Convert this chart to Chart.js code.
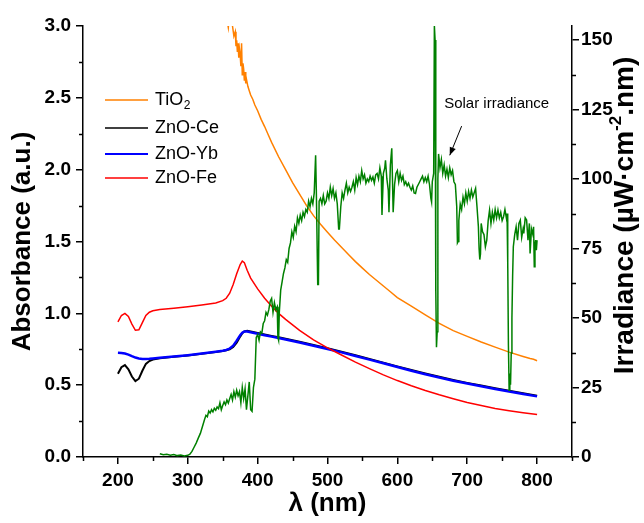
<!DOCTYPE html>
<html><head><meta charset="utf-8">
<script src="https://cdn.jsdelivr.net/npm/chart.js@4"></script>
<style>html,body{margin:0;padding:0;background:#fff}canvas{display:block}</style>
</head><body>
<canvas id="c" width="644" height="523"></canvas>
<script>
const FAMILY = '"Liberation Sans", Arial, Helvetica, sans-serif';

// ---- tick labels ----
const xTicks = [200, 300, 400, 500, 600, 700, 800];
const yLeftTicks = [0, 0.5, 1.0, 1.5, 2.0, 2.5, 3.0];
const yRightTicks = [0, 25, 50, 75, 100, 125, 150];

// ---- series names ----
const seriesNames = ['TiO2', 'ZnO-Ce', 'ZnO-Yb', 'ZnO-Fe'];
const irrName = 'Solar irradiance';

// ---- absorbance: ZnO series share a wavelength grid ----
const wlAbs = [200,205,210,215,220,225,230,235,240,245,250,260,280,300,320,340,350,355,360,365,370,375,378,381,385,390,400,410,420,430,440,460,480,500,520,540,560,580,600,620,640,660,680,700,720,740,760,780,800];
const absCe = [0.58,0.625,0.64,0.61,0.56,0.528,0.545,0.60,0.648,0.668,0.678,0.688,0.698,0.707,0.718,0.731,0.738,0.743,0.75,0.765,0.795,0.838,0.862,0.874,0.878,0.873,0.863,0.853,0.843,0.833,0.823,0.802,0.78,0.757,0.733,0.708,0.683,0.657,0.631,0.605,0.581,0.558,0.536,0.516,0.497,0.479,0.461,0.444,0.427];
const absYb = [0.725,0.724,0.72,0.713,0.702,0.692,0.686,0.683,0.683,0.684,0.686,0.69,0.70,0.709,0.72,0.733,0.74,0.745,0.755,0.775,0.81,0.848,0.865,0.874,0.874,0.868,0.858,0.848,0.838,0.828,0.818,0.797,0.775,0.752,0.728,0.703,0.678,0.652,0.626,0.60,0.576,0.553,0.531,0.511,0.492,0.474,0.456,0.439,0.422];
const absFe = [0.94,0.985,1.0,0.978,0.925,0.882,0.885,0.935,0.985,1.008,1.018,1.026,1.036,1.046,1.058,1.072,1.088,1.105,1.14,1.20,1.275,1.34,1.363,1.352,1.30,1.245,1.17,1.105,1.05,1.0,0.958,0.882,0.815,0.76,0.71,0.66,0.615,0.572,0.532,0.496,0.463,0.433,0.406,0.38,0.358,0.338,0.322,0.308,0.296];

// ---- absorbance: TiO2 ----
const wlTiO2 = [355,357,358,360,362,364,366,368,369,370,371,372,373,374,375,376,377,378,379,380,381,382,383,384,386,388,390,393,396,400,405,410,415,420,430,440,450,460,470,480,490,500,510,520,530,540,550,560,570,580,590,600,620,640,660,680,700,720,740,760,780,790,795,800];
const absTiO2 = [3.15,3.02,2.99,3.1,3.05,3.0,2.93,2.96,2.86,2.9,2.82,2.88,2.78,2.84,2.8,2.72,2.88,2.66,2.74,2.7,2.62,2.68,2.6,2.63,2.58,2.55,2.52,2.49,2.45,2.41,2.35,2.30,2.245,2.19,2.09,2.00,1.91,1.83,1.75,1.68,1.62,1.565,1.51,1.46,1.41,1.36,1.315,1.27,1.23,1.19,1.15,1.11,1.05,0.99,0.93,0.88,0.84,0.80,0.765,0.73,0.70,0.685,0.68,0.67];

// ---- solar irradiance (right axis) ----
const irrWl = [
260,265,270,275,280,285,290,295,300,303,
306,309,312,315,318,321,324,326,328,330,
332,334,336,338,340,342,344,346,348,350,
352,354,356,358,360,362,364,366,368,370,
372,374,376,378,380,382,384,386,388,390,
392,394,396,398,400,402,404,406,408,410,
412,414,416,418,420,422,424,426,428,429,
430,431,433,435,437,439,441,443,445,447,
449,451,453,455,457,459,461,463,465,467,
469,471,473,475,477,479,481,483,484,486,
487,488,490,492,494,496,498,500,502,504,
506,508,510,512,514,516,517,519,521,523,
525,527,529,531,533,535,537,539,541,543,
545,547,549,551,553,555,557,559,561,563,
565,567,569,571,573,575,577,578,580,582,
583,585,587,588,590,592,593,594,596,598,
600,602,604,606,608,610,612,614,616,618,
620,622,624,626,628,630,632,634,636,638,
640,642,644,646,648,649,650,652,653,654,
655,656,657,658,659,661,663,665,667,669,
671,673,675,677,679,681,683,685,686,687,
688,690,692,694,696,698,700,702,704,706,
708,710,712,714,716,717,718,719,720,722,
724,726,728,730,732,734,736,738,740,742,
744,746,748,750,752,754,756,757,758,759,
760,761,762,763,764,765,766,768,770,772,
774,776,778,780,781,783,785,787,789,790,
792,794,795,796,797,798,799,800];
const irrVal = [
1.2,0.8,1.0,0.6,0.9,0.5,0.7,0.4,0.6,1.0,
2.0,3.5,5.0,6.8,8.5,11,13.5,15,14.5,16.5,
15.8,17,16.2,17.5,16.8,18,17.4,19.5,17,18.5,
19.8,18.8,20.5,19.4,21,22.5,20.5,23.5,21.5,24,
22,23.5,19.5,25,21,24.5,17,22,27,17,
16.4,25,28,43,44,42,45,44.5,48,49,
52,51,53,56,57,52,55.5,53,54,43,
42,52,60,63,66,68,71,70,75,77,
81,79,83,81,86,84,87,85,88,86.5,
89,88,92,90,93,91,95,108.5,96,62,
62,92,93,91,94,91,92,95,93,97,
94,96.5,93,95,91,82,82,90,95,93,
96,98.5,95,97,95.5,97,99,96,100.5,98,
101,99,103,100,101.5,98.5,100,99,101,99.5,
100.7,98.5,101.5,102,100,104,101,87,102,104,
106.7,100,96,88,105,111,100,88,98,102,
103,99,102,99.5,101,98,99,97.5,98.5,97,
96,97.5,95,94.8,97,98,99,100,101,99,
100.5,99,101,98,93,91.7,99,102,155,150,
60,39.5,45,100,109,104,107,102,105,101,
103.5,100.5,104,101.5,103,99,98,90,77,77.5,
85,91,89,93.5,91,95,92,95.5,93,96,
93.5,95,96.6,90,82.8,75,71,73,84,81,
80,75.6,78,85,88.8,84,88,85.2,89,86,
88.8,86,88,85,86.4,89,86,87.6,70,40,
24,30,26,37.4,50,65,75.6,80,82.8,78,
84,85.2,79,82,80.4,86,85.2,78,84,73.2,
82,80,82.8,68.4,76,78,74.4,78];

// ---- annotation anchor (data coordinates) ----
const annotText = { wl: 667, irr: 127 };
const annotArrowFrom = { wl: 692, irr: 119 };
const annotArrowTo = { wl: 675, irr: 108.5 };

const colors = ['#FF8000', '#000000', '#0000FF', '#FF0000'];
const irrColor = '#008000';
const widths = [1.5, 2, 2.5, 1.5];

function pts(xs, ys) { return xs.map((x, i) => ({ x: x, y: ys[i] })); }

const deco = {
  id: 'deco',
  afterDraw(chart) {
    const ctx = chart.ctx, ca = chart.chartArea;
    const sx = chart.scales.x, yl = chart.scales.y, yr = chart.scales.y2;
    ctx.save();
    // minor ticks
    ctx.strokeStyle = '#000'; ctx.lineWidth = 1.5;
    ctx.beginPath();
    for (let v = 150; v <= 850; v += 100) { const p = Math.round(sx.getPixelForValue(v)) + 0.5; ctx.moveTo(p, ca.bottom); ctx.lineTo(p, ca.bottom + 4); }
    for (let v = 0.25; v < 3; v += 0.5) { const p = Math.round(yl.getPixelForValue(v)) + 0.5; ctx.moveTo(ca.left, p); ctx.lineTo(ca.left - 4, p); }
    for (let v = 12.5; v < 155; v += 25) { const p = Math.round(yr.getPixelForValue(v)) + 0.5; ctx.moveTo(ca.right, p); ctx.lineTo(ca.right + 4, p); }
    ctx.stroke();

    // legend
    const rows = [100, 128, 154, 178];
    ctx.textBaseline = 'middle'; ctx.textAlign = 'left';
    seriesNames.forEach((name, i) => {
      const y = rows[i];
      ctx.strokeStyle = colors[i]; ctx.lineWidth = widths[i] === 2.5 ? 2 : 1.5;
      ctx.beginPath(); ctx.moveTo(105, y); ctx.lineTo(148, y); ctx.stroke();
      ctx.fillStyle = '#000';
      const m = name.match(/^(.*?)(\d)$/);
      if (m) {
        ctx.font = '18px ' + FAMILY;
        ctx.fillText(m[1], 155, y);
        const w = ctx.measureText(m[1]).width;
        ctx.font = '12px ' + FAMILY;
        ctx.fillText(m[2], 155 + w + 0.5, y + 6);
      } else {
        ctx.font = '18px ' + FAMILY;
        ctx.fillText(name, 155, y);
      }
    });

    // annotation
    ctx.fillStyle = '#000';
    ctx.font = '15px ' + FAMILY;
    ctx.textBaseline = 'middle';
    ctx.fillText(irrName, sx.getPixelForValue(annotText.wl), yr.getPixelForValue(annotText.irr));
    const ax1 = sx.getPixelForValue(annotArrowFrom.wl), ay1 = yr.getPixelForValue(annotArrowFrom.irr);
    const ax2 = sx.getPixelForValue(annotArrowTo.wl), ay2 = yr.getPixelForValue(annotArrowTo.irr);
    ctx.strokeStyle = '#000'; ctx.lineWidth = 1;
    ctx.beginPath(); ctx.moveTo(ax1, ay1); ctx.lineTo(ax2, ay2); ctx.stroke();
    const ang = Math.atan2(ay2 - ay1, ax2 - ax1);
    const hl = 8, hw = 3.2;
    ctx.beginPath();
    ctx.moveTo(ax2, ay2);
    ctx.lineTo(ax2 - hl * Math.cos(ang) + hw * Math.sin(ang), ay2 - hl * Math.sin(ang) - hw * Math.cos(ang));
    ctx.lineTo(ax2 - hl * Math.cos(ang) - hw * Math.sin(ang), ay2 - hl * Math.sin(ang) + hw * Math.cos(ang));
    ctx.closePath(); ctx.fill();

    // right axis title with superscript
    ctx.save();
    ctx.translate(625, (ca.top + ca.bottom) / 2 - 26);
    ctx.rotate(-Math.PI / 2);
    const p1 = 'Irradiance (µW·cm', p2 = '-2', p3 = '.nm)';
    const big = 'bold 28px ' + FAMILY, small = 'bold 17px ' + FAMILY;
    ctx.font = big; const w1 = ctx.measureText(p1).width, w3 = ctx.measureText(p3).width;
    ctx.font = small; const w2 = ctx.measureText(p2).width;
    let x0 = -(w1 + w2 + w3) / 2;
    ctx.textBaseline = 'middle';
    ctx.font = big; ctx.fillText(p1, x0, 0);
    ctx.font = small; ctx.fillText(p2, x0 + w1, -9);
    ctx.font = big; ctx.fillText(p3, x0 + w1 + w2, 0);
    ctx.restore();

    ctx.restore();
  }
};

const tickFont = { family: FAMILY, size: 19, weight: 'bold' };
const titleFont = { family: FAMILY, size: 26, weight: 'bold' };

new Chart(document.getElementById('c'), {
  type: 'line',
  data: {
    datasets: [
      { label: seriesNames[0], data: pts(wlTiO2, absTiO2), borderColor: colors[0], borderWidth: widths[0], yAxisID: 'y', order: 5 },
      { label: seriesNames[1], data: pts(wlAbs, absCe), borderColor: colors[1], borderWidth: widths[1], yAxisID: 'y', order: 4 },
      { label: seriesNames[2], data: pts(wlAbs, absYb), borderColor: colors[2], borderWidth: widths[2], yAxisID: 'y', order: 3 },
      { label: seriesNames[3], data: pts(wlAbs, absFe), borderColor: colors[3], borderWidth: widths[3], yAxisID: 'y', order: 2 },
      { label: irrName, data: pts(irrWl, irrVal), borderColor: irrColor, borderWidth: 1.5, yAxisID: 'y2', order: 1 }
    ]
  },
  options: {
    responsive: false,
    animation: false,
    devicePixelRatio: 1,
    layout: { padding: { top: 26, left: 0, right: 0, bottom: 0 } },
    elements: { point: { radius: 0 }, line: { tension: 0, fill: false } },
    plugins: { legend: { display: false }, tooltip: { enabled: false } },
    scales: {
      x: {
        type: 'linear', min: 150, max: 850,
        afterBuildTicks: s => { s.ticks = xTicks.map(v => ({ value: v })); },
        afterFit: s => { s.height = 66; },
        grid: { drawOnChartArea: false, color: '#000', lineWidth: 1.5, tickLength: 7 },
        border: { color: '#000', width: 1.5 },
        ticks: { font: tickFont, color: '#000', padding: 5, maxRotation: 0, autoSkip: false },
        title: { display: true, text: 'λ (nm)', font: titleFont, color: '#000', padding: { top: 0, bottom: 4 } }
      },
      y: {
        position: 'left', min: 0, max: 3,
        afterBuildTicks: s => { s.ticks = yLeftTicks.map(v => ({ value: v })); },
        afterFit: s => { s.width = 83; },
        grid: { drawOnChartArea: false, color: '#000', lineWidth: 1.5, tickLength: 7 },
        border: { color: '#000', width: 1.5 },
        ticks: { font: tickFont, color: '#000', padding: 5, autoSkip: false, callback: v => Number(v).toFixed(1) },
        title: { display: true, text: 'Absorbance (a.u.)', font: titleFont, color: '#000', padding: { top: 7, bottom: 0 } }
      },
      y2: {
        position: 'right', min: 0, max: 155,
        afterBuildTicks: s => { s.ticks = yRightTicks.map(v => ({ value: v })); },
        afterFit: s => { s.width = 72; },
        grid: { drawOnChartArea: false, color: '#000', lineWidth: 1.5, tickLength: 7 },
        border: { color: '#000', width: 1.5 },
        ticks: { font: tickFont, color: '#000', padding: 2, autoSkip: false, callback: v => String(v) }
      }
    }
  },
  plugins: [deco]
});
</script>
</body></html>
